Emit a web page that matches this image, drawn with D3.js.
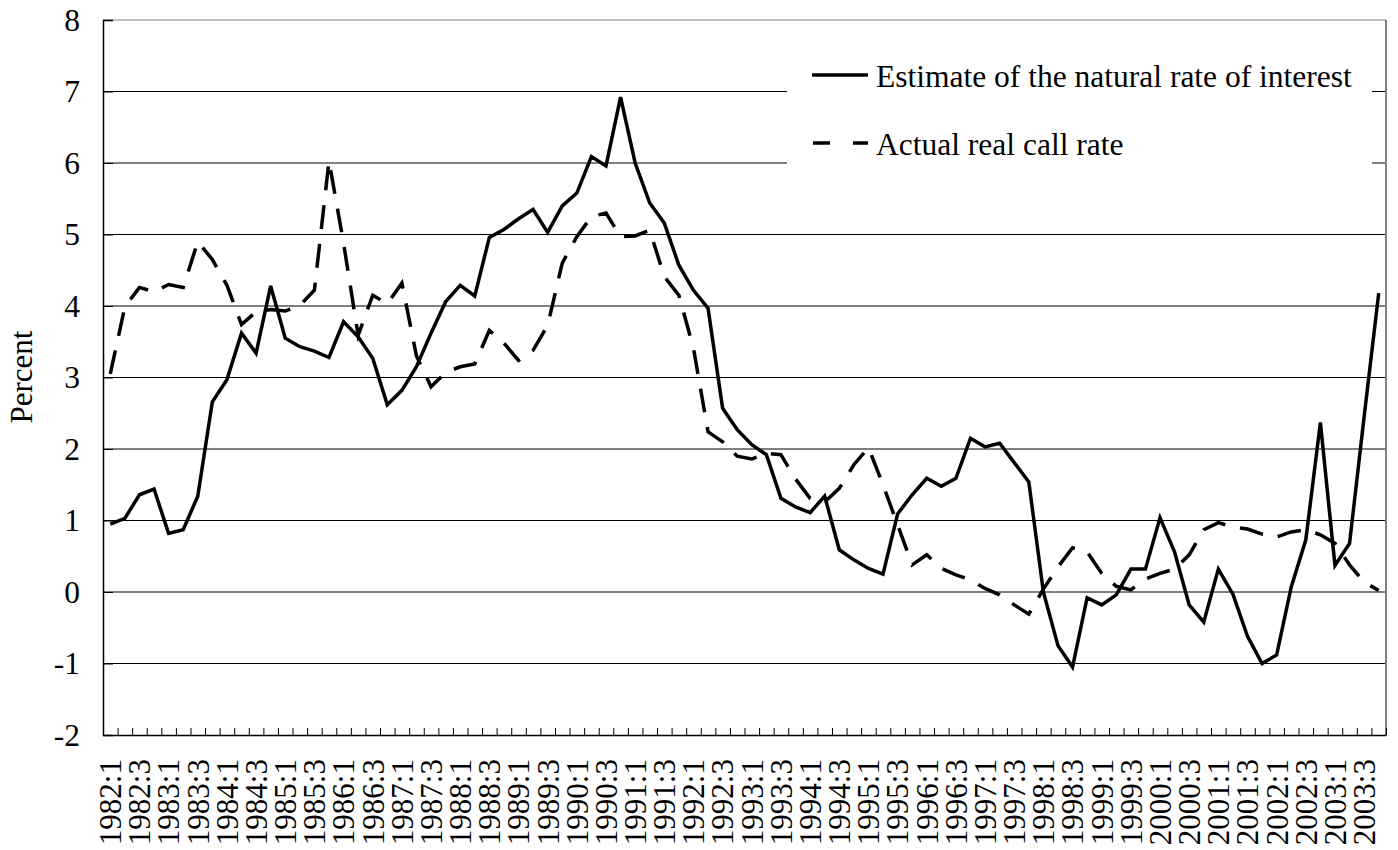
<!DOCTYPE html>
<html lang="en">
<head>
    <meta charset="UTF-8">
    <title>Natural rate of interest vs. real call rate</title>
    <script src="https://d3js.org/d3.v7.min.js"></script>
    <style>
        body { margin: 0; background: #fff; }
        svg text { font-family: "Liberation Serif", "Times New Roman", serif; fill: #000; }
    </style>
</head>
<body>
    <svg id="chart" width="1398" height="850"></svg>

<script>
  // Quarters 1982:1 ... 2003:4
  var quarters = [];
  d3.range(1982, 2004).forEach(function(yr) {
    [1, 2, 3, 4].forEach(function(q) { quarters.push(yr + ":" + q); });
  });

  // Estimate of the natural rate of interest (solid)
  var naturalRate = [
    0.95, 1.03, 1.36, 1.44, 0.82, 0.87, 1.34, 2.66,
    2.97, 3.62, 3.34, 4.28, 3.55, 3.43, 3.37, 3.28,
    3.78, 3.57, 3.27, 2.62, 2.82, 3.15, 3.62, 4.06,
    4.29, 4.14, 4.96, 5.07, 5.22, 5.35, 5.03, 5.40,
    5.58, 6.09, 5.96, 6.92, 6.00, 5.44, 5.16, 4.57,
    4.22, 3.97, 2.57, 2.27, 2.06, 1.92, 1.31, 1.19,
    1.11, 1.34, 0.59, 0.45, 0.33, 0.25, 1.09, 1.36,
    1.59, 1.48, 1.59, 2.15, 2.03, 2.08, 1.81, 1.54,
    0.00, -0.75, -1.05, -0.08, -0.18, -0.04, 0.32, 0.32,
    1.04, 0.56, -0.18, -0.42, 0.32, -0.03, -0.62, -1.00,
    -0.88, 0.07, 0.73, 2.37, 0.37, 0.68, 2.45, 4.18
  ];

  // Actual real call rate (dashed)
  var callRate = [
    3.05, 3.99, 4.26, 4.20, 4.30, 4.26, 4.90, 4.65,
    4.29, 3.74, 3.92, 3.95, 3.93, 4.01, 4.22, 6.03,
    4.88, 3.59, 4.15, 4.03, 4.32, 3.30, 2.87, 3.07,
    3.15, 3.19, 3.66, 3.48, 3.24, 3.38, 3.73, 4.60,
    4.97, 5.25, 5.30, 4.97, 4.98, 5.06, 4.41, 4.15,
    3.41, 2.24, 2.10, 1.90, 1.86, 1.94, 1.92, 1.58,
    1.31, 1.26, 1.45, 1.78, 2.02, 1.50, 0.94, 0.38,
    0.52, 0.33, 0.24, 0.17, 0.05, -0.04, -0.18, -0.31,
    0.04, 0.35, 0.62, 0.56, 0.26, 0.08, 0.03, 0.18,
    0.26, 0.32, 0.52, 0.87, 0.97, 0.91, 0.88, 0.81,
    0.77, 0.84, 0.87, 0.80, 0.68, 0.38, 0.14, 0.02
  ];

  var yTicks = [-2, -1, 0, 1, 2, 3, 4, 5, 6, 7, 8];
  var xLabels = quarters.filter(function(d, i) { return i % 2 === 0; });
  var seriesNames = ["Estimate of the natural rate of interest", "Actual real call rate"];

  var svg = d3.select("#chart");
  var plotLeft = 103, plotRight = 1386, plotTop = 20, plotBottom = 735;

  var x = d3.scaleBand().domain(quarters).range([plotLeft, plotRight]);
  var xIdx = d3.scaleLinear().domain([0, quarters.length]).range([plotLeft, plotRight]);
  var y = d3.scaleLinear().domain([-2, 8]).range([plotBottom, plotTop]);

  // gridlines
  svg.append("g")
    .selectAll("line")
    .data(yTicks.filter(function(d) { return d > -2; }))
    .enter()
    .append("line")
      .attr("x1", plotLeft)
      .attr("x2", plotRight)
      .attr("y1", function(d) { return y(d); })
      .attr("y2", function(d) { return y(d); })
      .attr("stroke", function(d) { return d === 8 ? "#808080" : "#000"; })
      .attr("stroke-width", 1);

  // right border
  svg.append("line")
    .attr("x1", plotRight).attr("x2", plotRight)
    .attr("y1", plotTop).attr("y2", plotBottom)
    .attr("stroke", "#808080")
    .attr("stroke-width", 2);

  // legend box covers the gridlines behind it
  svg.append("rect")
    .attr("x", 787).attr("y", 40)
    .attr("width", 585).attr("height", 150)
    .attr("fill", "#fff");

  // y axis
  var yAxis = svg.append("g")
    .attr("transform", "translate(" + plotLeft + ",0)")
    .call(d3.axisLeft(y).tickValues(yTicks).tickSize(-10).tickPadding(23).tickFormat(function(d) { return String(d); }));
  yAxis.select(".domain").attr("stroke", "#000").attr("stroke-width", 1.5);
  yAxis.selectAll("text").style("font-size", "31.5px");

  // x axis: small ticks on category boundaries
  var xTicks = svg.append("g")
    .attr("transform", "translate(0," + plotBottom + ")")
    .call(d3.axisBottom(xIdx).tickValues(d3.range(0, quarters.length + 1)).tickSize(-7).tickSizeOuter(0).tickFormat(""));
  xTicks.select(".domain").attr("stroke", "#000").attr("stroke-width", 1.5);
  xTicks.selectAll(".tick line").attr("stroke", "#000");

  // x labels, every second quarter
  var xAxis = svg.append("g")
    .attr("transform", "translate(0," + plotBottom + ")")
    .call(d3.axisBottom(x).tickValues(xLabels).tickSize(0));
  xAxis.select(".domain").remove();
  xAxis.selectAll("text")
    .attr("transform", "rotate(-90)")
    .attr("x", -24)
    .attr("y", 0)
    .attr("dy", "0.35em")
    .style("text-anchor", "end")
    .style("font-size", "31px");

  // y axis title
  svg.append("text")
    .attr("transform", "translate(32,377) rotate(-90)")
    .attr("text-anchor", "middle")
    .style("font-size", "31px")
    .text("Percent");

  // lines
  var line = d3.line()
    .x(function(d, i) { return x(quarters[i]) + x.bandwidth() / 2; })
    .y(function(d) { return y(d); });

  svg.append("path")
    .datum(callRate)
    .attr("d", line)
    .attr("fill", "none")
    .attr("stroke", "#000")
    .attr("stroke-width", 3.5)
    .attr("stroke-dasharray", "24,15");

  svg.append("path")
    .datum(naturalRate)
    .attr("d", line)
    .attr("fill", "none")
    .attr("stroke", "#000")
    .attr("stroke-width", 3.5)
    .attr("stroke-linejoin", "miter");

  // legend
  var legend = svg.append("g");
  legend.append("line")
    .attr("x1", 812).attr("x2", 868).attr("y1", 75).attr("y2", 75)
    .attr("stroke", "#000").attr("stroke-width", 3.5);
  legend.append("text")
    .attr("x", 876).attr("y", 87)
    .style("font-size", "31.5px")
    .text(seriesNames[0]);
  legend.append("line")
    .attr("x1", 813).attr("x2", 868).attr("y1", 143).attr("y2", 143)
    .attr("stroke", "#000").attr("stroke-width", 3.5)
    .attr("stroke-dasharray", "17,23");
  legend.append("text")
    .attr("x", 876).attr("y", 155)
    .style("font-size", "31.5px")
    .text(seriesNames[1]);
</script>
</body>
</html>
